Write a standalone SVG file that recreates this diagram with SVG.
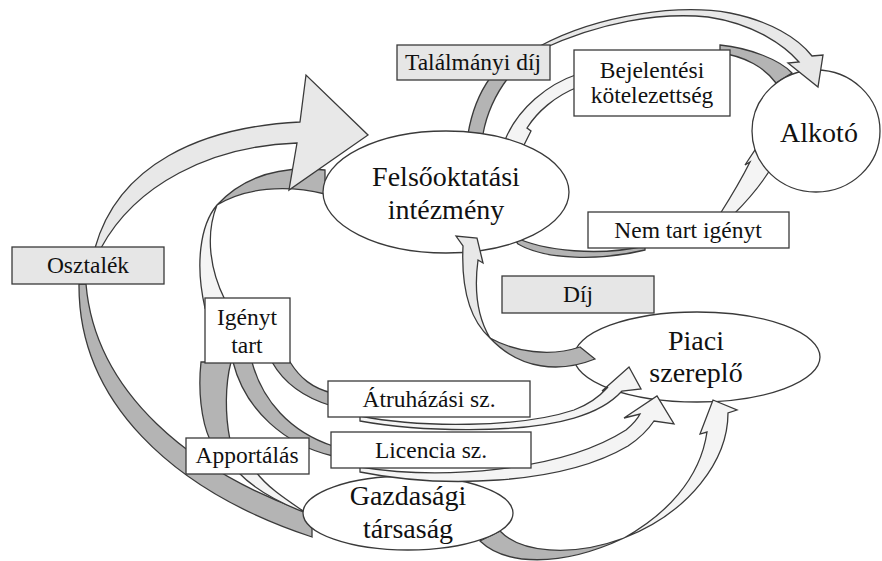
<svg xmlns="http://www.w3.org/2000/svg" width="882" height="561" viewBox="0 0 882 561">
<style>
.bg{fill:#ffffff}
.node{fill:#ffffff;stroke:#3a3a3a;stroke-width:1.3}
.box{fill:#ffffff;stroke:#3a3a3a;stroke-width:1.3}
.gbox{fill:#e6e6e6;stroke:#3a3a3a;stroke-width:1.3}
.lt{fill:#e8e8e8;stroke:#3a3a3a;stroke-width:1.3;stroke-linejoin:miter}
.wt{fill:#f4f4f4;stroke:#3a3a3a;stroke-width:1.3}
.dk{fill:#b4b4b4;stroke:#3a3a3a;stroke-width:1.3}
.t{fill:#111111;text-anchor:middle;font-family:"Liberation Serif","Times New Roman",serif}
.big{font-size:28px}
.sm{font-size:23.5px}
</style>
<rect class="bg" x="0" y="0" width="882" height="561"/>

<g id="connectors-back">
  <path class="dk" d="M79,284 C78,400 170,490 312,537 L312,514 C190,472 95,392 86,284 Z"/>
  <path class="dk" d="M217,205 C240,180 275,165 325,170 L325,194 C285,184 245,188 217,205 Z"/>
  <path class="wt" d="M217,205 C200,225 195,265 205,308 L225,300 C210,270 205,235 217,205 Z"/>
  <path class="dk" d="M468,134 C472,110 480,92 490,78 L508,78 C495,95 487,112 483,134 Z"/>
  <path class="dk" d="M720,45 C750,48 780,60 792,73 L776,83 C765,68 745,56 720,53 Z"/>
  <path class="wt" d="M578,74 C548,84 518,108 505,140 L524,145 L531,131 L527,128 C537,112 555,96 578,87 Z"/>
  <path class="dk" d="M512,236 C545,252 600,256 645,246 L645,250 C600,261 545,260 518,244 Z"/>
  <path class="wt" d="M720,214 C732,195 742,178 750,162 L745,165 L757,147 L776,160 C765,180 750,198 734,214 Z"/>
  <path class="dk" d="M290,362 C300,378 312,388 332,393 L332,406 C305,398 285,385 272,362 Z"/>
  <path class="dk" d="M252,362 C262,400 290,432 333,446 L333,456 C285,445 245,410 233,362 Z"/>
  <path class="dk" d="M201,362 C198,390 201,420 210,440 L230,440 C225,415 225,385 231,362 Z"/>
  <path class="wt" d="M238,472 C255,490 280,503 306,513 C287,500 268,488 256,472 Z"/>
  <path class="dk" d="M500,531 C520,552 570,558 624,538 C560,568 505,565 480,541 Z"/>
</g>

<g id="n-felso">
  <ellipse class="node" cx="446" cy="192" rx="123" ry="61"/>
  <text class="t big" x="446" y="186">Felsőoktatási</text>
  <text class="t big" x="446" y="219">intézmény</text>
</g>
<g id="n-alkoto">
  <ellipse class="node" cx="816" cy="131" rx="64" ry="61"/>
  <text class="t big" x="819" y="142">Alkotó</text>
</g>
<g id="n-piaci">
  <ellipse class="node" cx="697" cy="357" rx="123" ry="45"/>
  <text class="t big" x="696" y="350">Piaci</text>
  <text class="t big" x="696" y="382">szereplő</text>
</g>
<g id="n-gazd">
  <ellipse class="node" cx="408" cy="513" rx="105" ry="37"/>
  <text class="t big" x="408" y="505">Gazdasági</text>
  <text class="t big" x="408" y="538">társaság</text>
</g>

<g id="connectors">
  <path class="lt" d="M95,248 C118,165 200,127 300,122 L306,75 L368,135 L289,190 L297,143 C210,146 135,185 101,248 Z"/>
  <path class="lt" d="M540,46 C600,14 680,4 730,13 C770,21 798,38 812,56 L823,55 L818,87 L788,63 L799,62 C785,46 755,24 708,17 C660,12 600,22 540,50 Z"/>
  <path class="dk" d="M490,338 C515,352 550,357 580,347 L595,359 C560,373 520,370 490,338 Z"/>
  <path class="lt" d="M490,338 C470,320 461,290 463,246 L456,236 L477,238 L483,263 L478,260 C474,290 478,318 490,338 Z"/>
  <path class="wt" d="M360,416 C420,428 520,428 574,410 C590,404 600,396 608,387 L602,391 L629,367 L641,389 L622,391 C612,402 595,412 574,418 C520,434 420,432 360,421 Z"/>
  <path class="wt" d="M360,467 C440,480 560,472 626,430 C632,425 637,420 640,414 L624,418 L657,396 L674,424 L654,421 C648,430 640,438 628,446 C560,486 440,488 360,472 Z"/>
  <path class="wt" d="M624,538 C665,515 700,480 707,432 L700,434 L713,400 L737,410 L728,413 C728,460 690,512 624,538 Z"/>
</g>

<g id="b-talalmanyi">
  <rect class="gbox" x="397" y="45" width="153" height="35"/>
  <text class="t sm" x="473" y="70">Találmányi díj</text>
</g>
<g id="b-bejelentesi">
  <rect class="box" x="574" y="50" width="156" height="66"/>
  <text class="t sm" x="652" y="78">Bejelentési</text>
  <text class="t sm" x="652" y="103">kötelezettség</text>
</g>
<g id="b-osztalek">
  <rect class="gbox" x="12" y="247" width="152" height="37"/>
  <text class="t sm" x="88" y="273">Osztalék</text>
</g>
<g id="b-nemtart">
  <rect class="box" x="588" y="212" width="201" height="36"/>
  <text class="t sm" x="688" y="238">Nem tart igényt</text>
</g>
<g id="b-dij">
  <rect class="gbox" x="502" y="276" width="152" height="37"/>
  <text class="t sm" x="578" y="302">Díj</text>
</g>
<g id="b-igenyt">
  <rect class="box" x="205" y="298" width="85" height="65"/>
  <text class="t sm" x="247" y="325">Igényt</text>
  <text class="t sm" x="247" y="353">tart</text>
</g>
<g id="b-atruhazasi">
  <rect class="box" x="328" y="381" width="202" height="36"/>
  <text class="t sm" x="429" y="407">Átruházási sz.</text>
</g>
<g id="b-licencia">
  <rect class="box" x="331" y="432" width="200" height="36"/>
  <text class="t sm" x="431" y="458">Licencia sz.</text>
</g>
<g id="b-apportalas">
  <rect class="box" x="186" y="438" width="123" height="36"/>
  <text class="t sm" x="247" y="463">Apportálás</text>
</g>
</svg>
